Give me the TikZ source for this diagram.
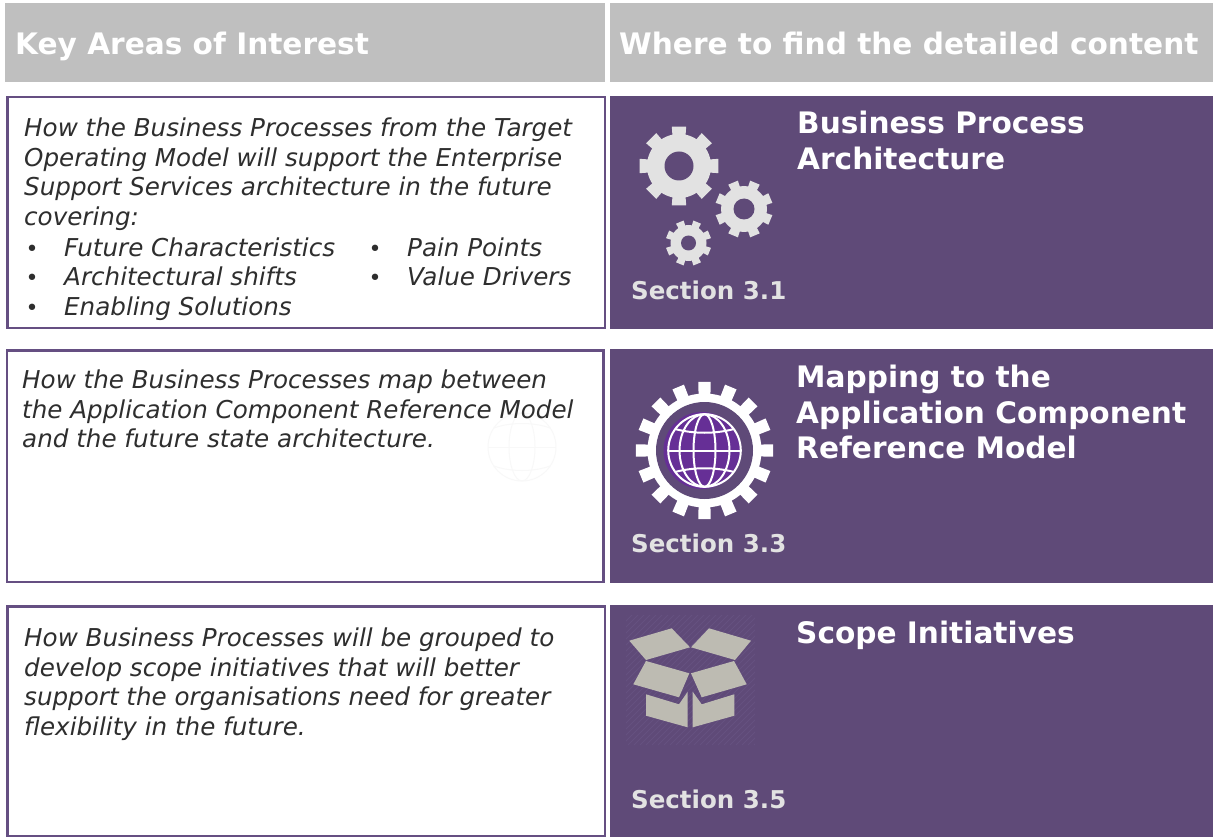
\documentclass[tikz,border=0pt]{standalone}
\usepackage{fontspec}
\setmainfont{DejaVu Sans}
\definecolor{plum}{HTML}{5F4A78}
\definecolor{hatch}{HTML}{655180}
\definecolor{framec}{HTML}{654F82}
\definecolor{headgrey}{HTML}{BFBFBF}
\definecolor{lightgear}{HTML}{E2E2E2}
\definecolor{boxtan}{HTML}{BDBBB2}
\definecolor{globe}{HTML}{662F96}
\definecolor{bodyink}{HTML}{2E2E2E}
\definecolor{ghost}{HTML}{F8F8F8}
\newcommand{\gearpath}[6]{% x y outer inner teeth rot
  \pgfmathsetmacro{\stepang}{360/#5}
  \pgfmathsetmacro{\lastt}{#5-1}
  \foreach \k in {0,...,\lastt}{
    \pgfmathsetmacro{\a}{#6+\k*\stepang}
    \fill[gearfill] ({#1+#3*cos(\a-0.23*\stepang)},{#2+#3*sin(\a-0.23*\stepang)}) --
      ({#1+#3*cos(\a+0.23*\stepang)},{#2+#3*sin(\a+0.23*\stepang)}) --
      ({#1+#4*cos(\a+0.27*\stepang)},{#2+#4*sin(\a+0.27*\stepang)}) --
      ({#1+#4*cos(\a-0.27*\stepang)},{#2+#4*sin(\a-0.27*\stepang)}) -- cycle;
  }
}
\tikzset{
  x=1pt,y=-1pt,
  gearfill/.style={fill=lightgear},
  frame/.style={fill=white,draw=framec,line width=2.5pt,anchor=north west,inner sep=0pt},
  headtext/.style={text=white,font=\fontsize{29.6}{33}\selectfont\bfseries,anchor=base west,inner sep=0pt},
  titletext/.style={text=white,font=\fontsize{29.6}{35.5}\selectfont\bfseries,anchor=north west,inner sep=0pt,align=left},
  sect/.style={text=lightgear,font=\fontsize{24.5}{28}\selectfont\bfseries,anchor=base west,inner sep=0pt},
  body/.style={text=bodyink,font=\fontsize{24.6}{29.5}\selectfont\itshape,anchor=north west,inner sep=0pt,align=left},
  bul/.style={text=bodyink,font=\fontsize{22}{29.5}\selectfont,anchor=base,inner sep=0pt},
}
\begin{document}
\begin{tikzpicture}
\useasboundingbox (0,0) rectangle (1213,837);
\fill[white] (0,0) rectangle (1213,837);
% headers
\fill[headgrey] (5,3) rectangle (605,82);
\fill[headgrey] (610,3) rectangle (1213,82);
\node[headtext] (h1) at (15,55) {Key Areas of Interest};
\node[headtext] (h2) at (619,55) {Where to find the detailed content};
% panes
\node[frame,minimum width=597.5,minimum height=230.5] (b1) at (6,96) {};
\node[frame,minimum width=596.7,minimum height=231.5] (b2) at (5.5,349) {};
\node[frame,minimum width=597.5,minimum height=229.5] (b3) at (6,605) {};
\fill[plum] (610,96) rectangle (1213,329);
\fill[plum] (610,349) rectangle (1213,583);
\fill[plum] (610,605) rectangle (1213,837);
% ghost globe
\begin{scope}[draw=ghost,line width=1pt]
\draw (522,447) circle (34);
\draw (522,447) ellipse (13 and 34);
\draw (488,447) -- (556,447);
\draw (494,428) .. controls (510,422) and (534,422) .. (550,428);
\draw (494,466) .. controls (510,472) and (534,472) .. (550,466);
\end{scope}
% left text
\node[body] (t1) at (24,118) {How the Business Processes from the Target\\Operating Model will support the Enterprise\\Support Services architecture in the future\\covering:};
\node[bul] (d1) at (32,256) {•};
\node[bul] (d2) at (32,285) {•};
\node[bul] (d3) at (32,315) {•};
\node[body,anchor=base west] (l1) at (64,256) {Future Characteristics};
\node[body,anchor=base west] (l2) at (64,285) {Architectural shifts};
\node[body,anchor=base west] (l3) at (64,315) {Enabling Solutions};
\node[bul] (d4) at (375,256) {•};
\node[bul] (d5) at (375,285) {•};
\node[body,anchor=base west] (l4) at (407,256) {Pain Points};
\node[body,anchor=base west] (l5) at (407,285) {Value Drivers};
\node[body] (t2) at (22,370) {How the Business Processes map between\\the Application Component Reference Model\\and the future state architecture.};
\node[body] (t3) at (24,628) {How Business Processes will be grouped to\\develop scope initiatives that will better\\support the organisations need for greater\\flexibility in the future.};
% right titles
\node[titletext] (r1) at (797,111) {Business Process\\Architecture};
\node[titletext] (r2) at (796,365) {Mapping to the\\Application Component\\Reference Model};
\node[titletext] (r3) at (796,621) {Scope Initiatives};
\node[sect] (s1) at (631,299) {Section 3.1};
\node[sect] (s2) at (631,552) {Section 3.3};
\node[sect] (s3) at (631,808) {Section 3.5};
% gears
\gearpath{679}{166}{40}{31}{8}{0}
\fill[lightgear] (679,166) circle (32);
\fill[plum] (679,166) circle (14.5);
\gearpath{744}{209}{29}{22}{8}{22.5}
\fill[lightgear] (744,209) circle (23);
\fill[plum] (744,209) circle (10.5);
\gearpath{688.5}{243}{23}{17}{8}{22.5}
\fill[lightgear] (688.5,243) circle (18);
\fill[plum] (688.5,243) circle (7.5);
% big gear with globe
\tikzset{gearfill/.style={fill=white}}
\gearpath{704.5}{450.5}{69}{56}{16}{0}
\fill[white] (704.5,450.5) circle (57);
\fill[plum] (704.5,450.5) circle (48.5);
\fill[globe] (702,450.5) circle (38.5);
\begin{scope}[draw=white,line width=2pt]
\draw (704.5,450.5) circle (36.3);
\draw (668.2,450.5) -- (740.8,450.5);
\draw (704.5,450.5) ellipse (11 and 36.3);
\draw (704.5,450.5) ellipse (25 and 36.3);
\draw (675,429) .. controls (694,434) and (715,434) .. (734,429);
\draw (675,472) .. controls (694,467) and (715,467) .. (734,472);
\end{scope}
% box backing hatch
\begin{scope}
\clip (626,615) rectangle (755,745);
\foreach \h in {0,6,...,260}{
  \draw[hatch,line width=0.8pt] (626+\h,615) -- (626+\h-130,745);
}
\end{scope}
% box
\tikzset{flap/.style={fill=boxtan,draw=none}}
\fill[flap] (629.3,640.7) -- (671.7,628.3) -- (690,647.3) -- (646,660) -- cycle;
\fill[flap] (691,647.3) -- (709,628.3) -- (751,640.7) -- (735,660) -- cycle;
\fill[flap] (646,661) -- (689.3,673.3) -- (679,697.3) -- (633.3,684.3) -- cycle;
\fill[flap] (691,673.3) -- (734,661) -- (746.7,684.3) -- (701.7,697.3) -- cycle;
\fill[flap] (646,694.3) -- (679,704.3) -- (687.7,691.7) -- (687.7,727.3) -- (646,715.7) -- cycle;
\fill[flap] (692.7,691.7) -- (701.7,704.3) -- (734.3,694.3) -- (734.3,715.7) -- (692.7,727.3) -- cycle;
\end{tikzpicture}
\end{document}
